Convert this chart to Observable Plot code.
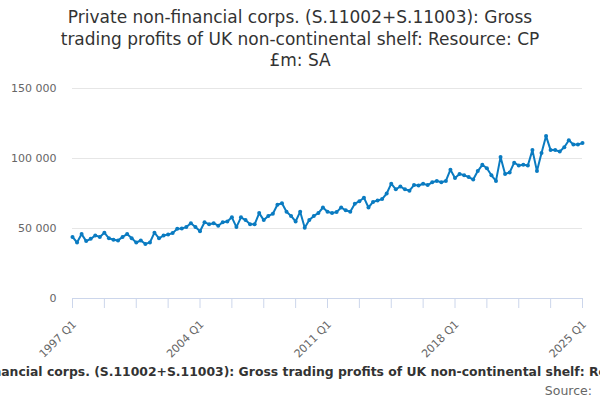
<!DOCTYPE html>
<html>
<head>
<meta charset="utf-8">
<script src="https://cdn.jsdelivr.net/npm/d3@7"></script>
<script src="https://cdn.jsdelivr.net/npm/@observablehq/plot@0.6"></script>
<style>
  html, body { margin: 0; padding: 0; width: 600px; height: 400px; overflow: hidden; background: #fff; font-family: "DejaVu Sans", sans-serif; }
  #title { position: absolute; top: 7px; left: 0; width: 600px; text-align: center; font-size: 17px; line-height: 21.5px; color: #333; }
  #chart { position: absolute; top: 72px; left: 0; }
  #caption { position: absolute; top: 364px; left: 16px; width: 600px; display: flex; justify-content: center; white-space: nowrap; font-size: 12.4px; font-weight: bold; line-height: 16px; color: #333; }
  #source { position: absolute; top: 383px; right: 8px; font-size: 12.5px; line-height: 16px; color: #666; }
</style>
</head>
<body>
<div id="title">Private non-financial corps. (S.11002+S.11003): Gross<br>trading profits of UK non-continental shelf: Resource: CP<br>£m: SA</div>
<div id="chart"></div>
<div id="caption"><span>Private non-financial corps. (S.11002+S.11003): Gross trading profits of UK non-continental shelf: Resource: CP £m: SA</span></div>
<div id="source">Source:</div>
<script>
// Quarterly values, £m, 1997 Q1 .. 2025 Q1
const startYear = 1997;
const values = [
  44000, 40000, 46000, 41000, 42600, 45000, 44000, 47000, 43000, 42000,
  41400, 44000, 46000, 43000, 40000, 41400, 39000, 40000, 47000, 43000,
  45000, 45700, 46700, 49800, 50000, 51000, 53800, 51000, 48000, 54500,
  53000, 53800, 52000, 54500, 55000, 58000, 51000, 58000, 56000, 53000,
  53000, 61000, 56000, 59000, 60500, 67000, 68000, 62000, 59000, 55000,
  62000, 50500, 56000, 59000, 61000, 65000, 62000, 61000, 61700, 65000,
  63000, 62000, 67600, 69500, 72000, 65000, 69000, 70000, 71000, 75000,
  82000, 78000, 80000, 78000, 77000, 81000, 80700, 82000, 81000, 83000,
  84000, 83000, 84000, 92000, 86000, 89000, 88000, 86700, 85000, 91000,
  95500, 93000, 88000, 84000, 101000, 89000, 90000, 97000, 95000, 95500,
  95000, 106000, 91000, 104000, 116000, 106000, 106000, 105000, 108000, 113000,
  110000, 110000, 111000
];
const quarters = values.map((_, i) => `${startYear + Math.floor(i / 4)} Q${(i % 4) + 1}`);
const xLabels = ["1997 Q1", "2004 Q1", "2011 Q1", "2018 Q1", "2025 Q1"];
const xTickMarks = quarters.filter((_, i) => i % 7 === 0);
const yTicks = [0, 50000, 100000, 150000];

const data = quarters.map((q, i) => ({ quarter: q, value: values[i] }));
const fmt = d => d3.format(",")(d).replace(/,/g, " ");
const lineColor = "#0a7bc1";

const chart = Plot.plot({
  width: 600,
  height: 290,
  marginLeft: 72,
  marginRight: 18,
  marginTop: 16,
  marginBottom: 64,
  style: { fontFamily: "DejaVu Sans, sans-serif", fontSize: "11px", background: "white" },
  x: { type: "point", domain: quarters, padding: 0 },
  y: { domain: [0, 150000] },
  marks: [
    Plot.gridY(yTicks.slice(1), { stroke: "#e6e6e6", strokeOpacity: 1 }),
    Plot.axisY({ ticks: yTicks, tickSize: 0, tickPadding: 16, tickFormat: fmt, fill: "#666", label: null }),
    Plot.ruleY([0], { stroke: "#ccd6eb", strokeWidth: 1 }),
    Plot.axisX({ ticks: xTickMarks, tickSize: 10, stroke: "#ccd6eb", strokeOpacity: 1, text: null, label: null }),
    Plot.axisX({ ticks: xLabels, tickSize: 0, tickPadding: 12, tickRotate: -45, dy: 12, dx: 2, fill: "#666", label: null }),
    Plot.line(data, { x: "quarter", y: "value", stroke: lineColor, strokeWidth: 2 }),
    Plot.dot(data, { x: "quarter", y: "value", r: 2, fill: lineColor, stroke: "none" })
  ]
});
document.getElementById("chart").appendChild(chart);
</script>
</body>
</html>
